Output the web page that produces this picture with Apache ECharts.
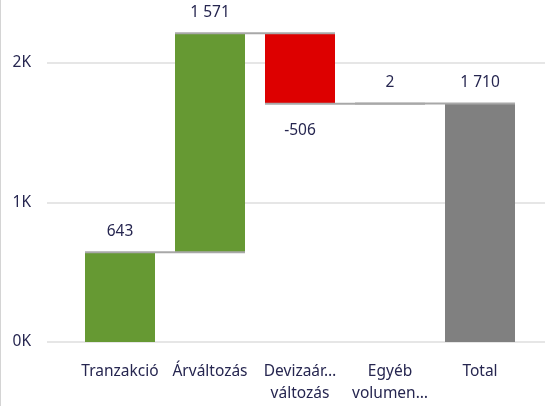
<!DOCTYPE html>
<html>
<head>
<meta charset="utf-8">
<script src="https://cdn.jsdelivr.net/npm/echarts@6/dist/echarts.min.js"></script>
<style>
html,body{margin:0;padding:0;background:#fff;}
#chart{width:545px;height:406px;}
</style>
</head>
<body>
<div id="chart"></div>
<script>
var categories = ['Tranzakció', 'Árváltozás', 'Devizaár…\nváltozás', 'Egyéb\nvolumen…', 'Total'];
var changes = [643, 1571, -506, 2, 1710];
var isTotal = [false, false, false, false, true];
var yTicks = [0, 1000, 2000];

var barColors = { up: '#669933', down: '#dd0000', total: '#808080' };
var textColor = '#262650';
var font = 'Noto Sans';
var FS = 15.5;

// derive waterfall base / height / running level
var base = [], heights = [], level = [], run = 0;
for (var i = 0; i < changes.length; i++) {
  if (isTotal[i]) {
    base.push(0); heights.push(changes[i]); run = changes[i];
  } else if (changes[i] >= 0) {
    base.push(run); heights.push(changes[i]); run += changes[i];
  } else {
    run += changes[i]; base.push(run); heights.push(-changes[i]);
  }
  level.push(run);
}

function fmt(v) {
  var s = String(Math.abs(v)).replace(/\B(?=(\d{3})+(?!\d))/g, ' ');
  return (v < 0 ? '-' : '') + s;
}

var visibleData = heights.map(function (h, i) {
  var c = isTotal[i] ? barColors.total : (changes[i] >= 0 ? barColors.up : barColors.down);
  return {
    value: h,
    itemStyle: { color: c },
    label: {
      position: changes[i] < 0 ? 'bottom' : 'top',
      distance: changes[i] < 0 ? 19 : 13,
      formatter: fmt(changes[i])
    }
  };
});

var connectorData = [];
for (var j = 0; j < level.length - 1; j++) connectorData.push([j, level[j]]);

var BAR_W = 70;
var chart = echarts.init(document.getElementById('chart'), null, { renderer: 'canvas' });
chart.setOption({
  animation: false,
  backgroundColor: '#fff',
  textStyle: { fontFamily: font },
  grid: [
    { left: 47, right: 0, top: 7.2, bottom: 64 },
    { left: 75, right: 20, top: 7.2, bottom: 64 }
  ],
  xAxis: [
    { type: 'category', gridIndex: 0, data: categories, show: false },
    {
      type: 'category', gridIndex: 1, data: categories,
      axisLine: { show: false }, axisTick: { show: false },
      axisLabel: { color: textColor, fontSize: FS, fontFamily: font, margin: 19, lineHeight: 22, interval: 0 }
    }
  ],
  yAxis: [
    {
      type: 'value', gridIndex: 0, min: 0, max: 2400, interval: 1000,
      axisLine: { show: false }, axisTick: { show: false },
      splitLine: { show: true, showMaxLine: false, lineStyle: { color: '#e6e6e6', width: 2 } },
      axisLabel: {
        color: textColor, fontSize: FS, fontFamily: font, margin: 16, showMaxLabel: false,
        formatter: function (v) { return yTicks.indexOf(v) >= 0 ? (v / 1000) + 'K' : ''; }
      }
    },
    { type: 'value', gridIndex: 1, min: 0, max: 2400, interval: 1000, show: false }
  ],
  series: [
    {
      type: 'bar', xAxisIndex: 1, yAxisIndex: 1, stack: 'w', barWidth: BAR_W,
      itemStyle: { color: 'transparent' }, data: base, silent: true
    },
    {
      type: 'bar', xAxisIndex: 1, yAxisIndex: 1, stack: 'w', barWidth: BAR_W,
      data: visibleData,
      label: { show: true, color: textColor, fontSize: FS, fontFamily: font }
    },
    {
      type: 'custom', xAxisIndex: 1, yAxisIndex: 1, data: connectorData, z: 5,
      renderItem: function (params, api) {
        var i = api.value(0), v = api.value(1);
        var p1 = api.coord([i, v]);
        var p2 = api.coord([i + 1, v]);
        return {
          type: 'line',
          shape: { x1: p1[0] - BAR_W / 2, y1: p1[1], x2: p2[0] + BAR_W / 2, y2: p2[1] },
          style: { stroke: '#a8a8a8', lineWidth: 2 }
        };
      }
    }
  ],
  graphic: [
    { type: 'line', shape: { x1: 0.5, y1: 0, x2: 0.5, y2: 406 }, style: { stroke: '#d4d4d4', lineWidth: 1 } }
  ]
});
</script>
</body>
</html>
